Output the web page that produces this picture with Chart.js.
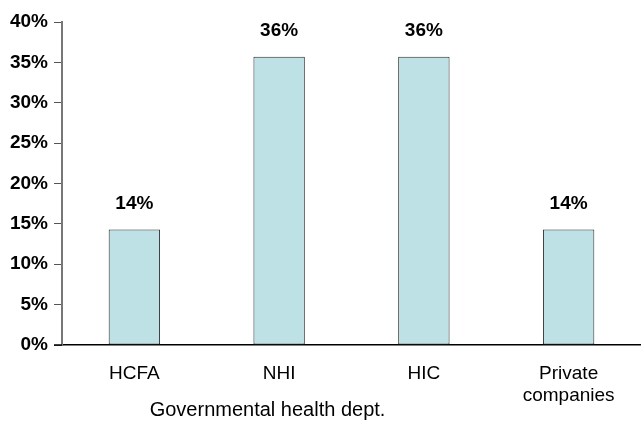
<!DOCTYPE html>
<html>
<head>
<meta charset="utf-8">
<script src="https://cdn.jsdelivr.net/npm/chart.js@4"></script>
<style>
html,body{margin:0;padding:0;background:#fff;}
#wrap{width:641px;height:424px;position:relative;}
</style>
</head>
<body>
<div id="wrap"><canvas id="c" width="641" height="424"></canvas></div>
<script>
const categories = ['HCFA', 'NHI', 'HIC', ['Private', 'companies']];
const values = [14.3, 35.7, 35.7, 14.3];
const valueLabels = ['14%', '36%', '36%', '14%'];
const yTicks = [0, 5, 10, 15, 20, 25, 30, 35, 40];
const axisTitle = 'Governmental health dept.';

const FONT = '"Liberation Sans", Arial, Helvetica, sans-serif';

const labelPlugin = {
  id: 'labels',
  afterDatasetsDraw(chart) {
    const ctx = chart.ctx;
    const meta = chart.getDatasetMeta(0);
    const area = chart.chartArea;
    ctx.save();
    // extend the category axis line slightly left of the value axis
    ctx.strokeStyle = '#000';
    ctx.lineWidth = 1.5;
    ctx.beginPath();
    ctx.moveTo(area.left - 8, area.bottom);
    ctx.lineTo(area.left, area.bottom);
    ctx.stroke();

    ctx.fillStyle = '#000';
    ctx.font = 'bold 19px ' + FONT;
    ctx.textAlign = 'center';
    ctx.textBaseline = 'bottom';
    meta.data.forEach((bar, i) => {
      ctx.fillText(valueLabels[i], bar.x, bar.y - 16);
    });
    // axis title under the governmental group
    const xs = chart.scales.x;
    ctx.font = '20px ' + FONT;
    ctx.textBaseline = 'middle';
    ctx.fillText(axisTitle, xs.getPixelForValue(0.92), 410);
    ctx.restore();
  }
};

new Chart(document.getElementById('c'), {
  type: 'bar',
  data: {
    labels: categories,
    datasets: [{
      data: values,
      backgroundColor: '#bde1e4',
      borderColor: '#2a2a2a',
      borderWidth: 1,
      borderSkipped: false,
      barPercentage: 0.71,
      categoryPercentage: 0.5
    }]
  },
  options: {
    responsive: false,
    animation: false,
    layout: { padding: { top: 22, right: 0, bottom: 0, left: 0 } },
    plugins: { legend: { display: false }, tooltip: { enabled: false } },
    scales: {
      x: {
        grid: { display: false, drawTicks: false },
        border: { color: '#000', width: 1.5 },
        ticks: { color: '#000', font: { family: FONT, size: 19, lineHeight: 1.15 }, padding: 18, maxRotation: 0, autoSkip: false },
        afterFit(s) { s.height = 79; }
      },
      y: {
        min: 0, max: 40,
        afterBuildTicks(s) { s.ticks = yTicks.map(v => ({ value: v })); },
        grid: { drawOnChartArea: false, tickLength: 8, color: '#555', lineWidth: 1 },
        border: { color: '#777', width: 2 },
        ticks: { color: '#000', font: { family: FONT, size: 19, weight: 'bold' }, padding: 6,
                 callback: v => v + '%' },
        afterFit(s) { s.width = 62; }
      }
    }
  },
  plugins: [labelPlugin]
});
</script>
</body>
</html>
